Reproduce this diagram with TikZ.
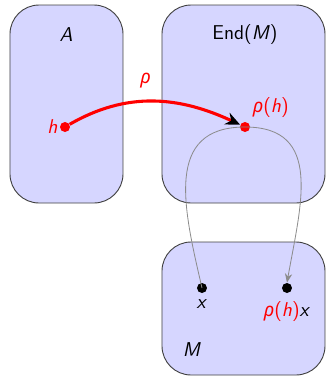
\documentclass[tikz,border=0pt]{standalone}
\usepackage{fontspec}
\newfontfamily\grk{Noto Sans}[Scale=0.95]
\usetikzlibrary{arrows.meta}
\newcommand{\si}[1]{\textsf{\textit{#1}}}
\newcommand{\rh}{{\grk\itshape ρ}}
\begin{document}
\begin{tikzpicture}[x=0.55pt,y=-0.55pt,font=\sffamily\fontsize{11}{13}\selectfont,
  setbox/.style={draw=black!75,fill=blue!16,line width=0.5pt,rounded corners=16pt},
  dot/.style={circle,fill,inner sep=0pt,minimum size=5.5pt},
  lbl/.style={inner sep=1pt}]
\useasboundingbox (0,0) rectangle (326,377);
\clip (0,0) rectangle (326,377);
\draw[setbox] (10,5) rectangle (123,203);
\draw[setbox] (162,5) rectangle (325,203);
\draw[setbox] (162,242) rectangle (325,375);
\node[lbl] (tA) at (66,35) {\si{A}};
\node[lbl] (tE) at (245,35) {End(\si{M})};
\node[lbl] (tM) at (192,350) {\si{M}};
\node[dot,red] (h) at (65,127) {};
\node[dot,red] (rh) at (245,127) {};
\node[dot,black] (x) at (202,288) {};
\node[dot,black] (rhx) at (287,288) {};
\node[lbl,red,anchor=east] (th) at (h.west) {\si{h}};
\node[lbl,red,anchor=south west] (trh) at ([xshift=1pt,yshift=2pt]rh.north east) {\rh(\si{h})};
\node[lbl,anchor=north] (tx) at ([yshift=-2.5pt]x.south) {\si{x}};
\node[lbl,anchor=north] (trhx) at ([yshift=-3pt]rhx.south) {\textcolor{red}{\rh(\si{h})}\si{x}};
\draw[black!45,line width=0.45pt,-{Stealth[length=5pt,width=4pt]}] (x.center) to[out=103,in=180,looseness=1.25] (rh.center) to[out=0,in=80,looseness=1.25] (rhx.north);
\draw[red,line width=1.7pt,-{Stealth[black,length=8pt,width=7pt]}] (h) to[out=30,in=155] node[above,pos=0.45,yshift=3pt] (trho) {\rh} (rh);
\end{tikzpicture}
\end{document}
